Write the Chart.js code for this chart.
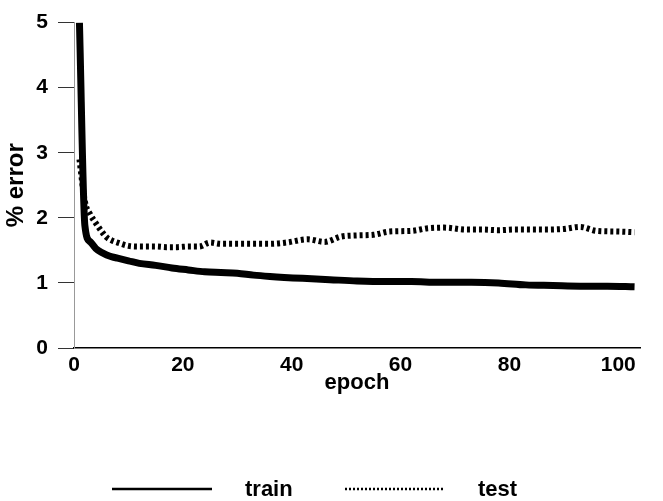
<!DOCTYPE html>
<html>
<head>
<meta charset="utf-8">
<script src="https://cdn.jsdelivr.net/npm/chart.js@4/dist/chart.umd.min.js"></script>
<style>
html,body{margin:0;padding:0;background:#fff;}
#wrap{width:663px;height:501px;position:relative;}
</style>
</head>
<body>
<div id="wrap"><canvas id="c" width="663" height="501"></canvas></div>
<script>
// ---- data ----
const seriesNames = ['train', 'test'];
const xTitle = 'epoch';
const yTitle = '% error';
const xTickValues = [0, 20, 40, 60, 80, 100];
const yTickValues = [0, 1, 2, 3, 4, 5];

const trainEpochs = [1,2,3,4,5,6,7,8,10,12,15,18,21,24,27,30,33,36,42,47,52,57,62,67,73,78,83,88,93,98,103];
const trainError  = [5.0,1.88,1.63,1.53,1.47,1.43,1.40,1.38,1.34,1.30,1.27,1.23,1.20,1.17,1.16,1.15,1.12,1.10,1.07,1.05,1.03,1.02,1.02,1.01,1.01,1.00,0.97,0.96,0.95,0.95,0.94];

const testEpochs = [1,2,3,4,5,6,7,8,10,12,15,17,19,21,23,25,27,30,33,36,39,43,46,49,52,55,58,62,65,68,72,75,78,81,84,87,90,93,96,100,103];
const testError  = [2.9,2.25,2.05,1.92,1.8,1.7,1.65,1.62,1.57,1.56,1.56,1.55,1.55,1.56,1.56,1.62,1.6,1.6,1.6,1.6,1.62,1.67,1.63,1.71,1.73,1.74,1.79,1.8,1.84,1.85,1.82,1.82,1.81,1.82,1.82,1.82,1.83,1.86,1.8,1.79,1.78];

// ---- build chart ----
const FONT = '"Liberation Sans", Arial, Helvetica, sans-serif';
const toPoints = (xs, ys) => xs.map((x, i) => ({x: x, y: ys[i]}));

const bottomLegend = {
  id: 'bottomLegend',
  afterDraw(chart, args, opts) {
    const ctx = chart.ctx;
    ctx.save();
    chart.data.datasets.forEach((ds, i) => {
      const x0 = opts.starts[i];
      ctx.beginPath();
      ctx.lineWidth = opts.sampleWidths[i];
      ctx.strokeStyle = ds.borderColor;
      ctx.setLineDash(opts.sampleDashes[i]);
      ctx.lineCap = 'butt';
      ctx.moveTo(x0, opts.y);
      ctx.lineTo(x0 + opts.sampleLength, opts.y);
      ctx.stroke();
      ctx.setLineDash([]);
      ctx.fillStyle = '#000';
      ctx.font = 'bold 22px ' + FONT;
      ctx.textBaseline = 'middle';
      ctx.textAlign = 'left';
      ctx.fillText(ds.label, x0 + opts.sampleLength + opts.gap, opts.y + 1);
    });
    ctx.restore();
  }
};

new Chart(document.getElementById('c'), {
  type: 'line',
  data: {
    datasets: [
      {
        label: seriesNames[0],
        data: toPoints(trainEpochs, trainError),
        borderColor: '#000',
        borderWidth: 7,
        pointRadius: 0,
        cubicInterpolationMode: 'monotone',
        fill: false
      },
      {
        label: seriesNames[1],
        data: toPoints(testEpochs, testError),
        borderColor: '#000',
        borderWidth: 6,
        borderDash: [3, 3],
        borderCapStyle: 'butt',
        pointRadius: 0,
        cubicInterpolationMode: 'monotone',
        fill: false
      }
    ]
  },
  options: {
    responsive: false,
    animation: false,
    devicePixelRatio: 1,
    layout: { padding: { left: 0, right: 23, top: 19, bottom: 105 } },
    plugins: {
      legend: { display: false },
      tooltip: { enabled: false },
      bottomLegend: {
        starts: [112, 345],
        sampleLength: 100,
        gap: 33,
        y: 489,
        sampleWidths: [2.5, 2.5],
        sampleDashes: [[], [2, 2]]
      }
    },
    scales: {
      x: {
        type: 'linear',
        min: 0, max: 104,
        afterBuildTicks: (s) => { s.ticks = xTickValues.map(v => ({value: v})); },
        ticks: { color: '#000', font: { family: FONT, size: 21, weight: 'bold' }, padding: -3, maxRotation: 0 },
        grid: { display: false },
        border: { display: true, color: '#000', width: 1.5 },
        title: { display: true, text: xTitle, color: '#000', font: { family: FONT, size: 22, weight: 'bold' }, padding: { top: 0, bottom: 0 } },
        afterFit: (s) => { s.height = 48; }
      },
      y: {
        type: 'linear',
        min: 0, max: 5,
        afterBuildTicks: (s) => { s.ticks = yTickValues.map(v => ({value: v})); },
        ticks: { color: '#000', font: { family: FONT, size: 21, weight: 'bold' }, padding: 10 },
        grid: { drawOnChartArea: false, drawTicks: true, tickLength: 16, color: '#333', lineWidth: 1 },
        border: { display: true, color: '#999', width: 1 },
        title: { display: true, text: yTitle, color: '#000', font: { family: FONT, size: 24, weight: 'bold' }, padding: { top: 2, bottom: 0 } },
        afterFit: (s) => { s.width = 74; }
      }
    }
  },
  plugins: [bottomLegend]
});
</script>
</body>
</html>
